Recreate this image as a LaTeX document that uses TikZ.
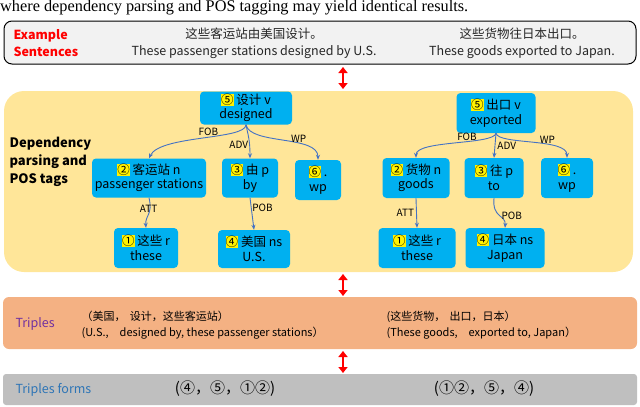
\documentclass[tikz,border=0pt]{standalone}
\usepackage{fontspec}
\setmainfont{Liberation Serif}
\newfontfamily\cjk{Noto Sans CJK SC}
\usetikzlibrary{arrows.meta}
\definecolor{nodeblue}{HTML}{00B0F0}
\definecolor{edgeblue}{HTML}{4472C4}
\definecolor{yellowbg}{HTML}{FFE699}
\definecolor{orangebg}{HTML}{F4B183}
\definecolor{graybg}{HTML}{BFBFBF}
\definecolor{lightbg}{HTML}{F2F2F2}
\definecolor{purp}{HTML}{7030A0}
\definecolor{tfblue}{HTML}{2E75B6}
\newcommand\hlnum[1]{{\setlength\fboxsep{0pt}\colorbox{yellow}{#1}}}
\tikzset{
 wnode/.style={fill=nodeblue, rounded corners=4pt, align=center, font=\cjk\fontsize{12.5}{14.5}\selectfont, inner sep=0pt},
 dep/.style={draw=edgeblue, line width=0.9pt, -{Stealth[length=5pt,width=4pt]}},
 lab/.style={font=\cjk\fontsize{10}{11}\selectfont, inner sep=1pt},
 redarr/.style={draw=red, line width=2.5pt, {Triangle[length=6pt,width=9pt]}-{Triangle[length=6pt,width=9pt]}},
 side/.style={font=\cjk\fontsize{12}{16}\selectfont, align=left, anchor=west},
 txt/.style={font=\cjk\fontsize{11}{16}\selectfont, align=left, anchor=west}
}
\begin{document}
\begin{tikzpicture}[x=1pt,y=-1pt]
\useasboundingbox (0,0) rectangle (640,407);
\node[anchor=west, font=\fontsize{16.3}{17}\selectfont, inner sep=0pt] (cap) at (0,8) {where dependency parsing and POS tagging may yield identical results.};
% example box
\draw[rounded corners=8pt, fill=lightbg, line width=1pt] (4,21) rectangle (636,64);
\node[side, text=red, font=\cjk\bfseries\fontsize{12.5}{17}\selectfont] (ex) at (10,43) {Example\\Sentences};
\node[align=center, font=\cjk\fontsize{12.5}{17}\selectfont, text=black!85] (s1) at (254,43) {这些客运站由美国设计。\\These passenger stations designed by U.S.};
\node[align=center, font=\cjk\fontsize{12.5}{17}\selectfont, text=black!85] (s2) at (522,43) {这些货物往日本出口。\\These goods exported to Japan.};
% yellow box
\fill[yellowbg, rounded corners=20pt] (4,91) rectangle (633,272);
\node[side, font=\cjk\bfseries\fontsize{13}{18}\selectfont] (dp) at (6,162) {Dependency\\parsing and\\POS tags};
% left tree
\node[wnode, minimum width=92pt, minimum height=33pt] (a5) at (246,108) {\hlnum{⑤} 设计 v\\designed};
\node[wnode, minimum width=114pt, minimum height=39pt] (a2) at (149,178) {\hlnum{②} 客运站 n\\passenger stations};
\node[wnode, minimum width=56pt, minimum height=39pt] (a3) at (250,178) {\hlnum{③} 由 p\\by};
\node[wnode, minimum width=46pt, minimum height=40pt] (a6) at (318,180) {\hlnum{⑥} .\\wp};
\node[wnode, minimum width=64pt, minimum height=40pt] (a1) at (146,248) {\hlnum{①} 这些 r\\these};
\node[wnode, minimum width=72pt, minimum height=38pt] (a4) at (254,249) {\hlnum{④} 美国 ns\\U.S.};
\draw[dep] (a5.south) .. controls (246,140) and (160,135) .. node[lab, pos=0.45, above] {FOB} (a2.north);
\draw[dep] (a5.south) .. controls (248,135) and (250,140) .. node[lab, pos=0.7, left=0pt] {ADV} (a3.north);
\draw[dep] (a5.south) .. controls (250,145) and (318,135) .. node[lab, pos=0.65, above] {WP} (a6.north);
\draw[dep] (a2.south) .. controls (153,215) and (145,215) .. node[lab, pos=0.5, above] {ATT} (a1.north);
\draw[dep] (a3.south) -- node[lab, pos=0.45, above right=-1pt] {POB} (a4.north);
% right tree
\node[wnode, minimum width=79pt, minimum height=40pt] (b5) at (496,113) {\hlnum{⑤} 出口 v\\exported};
\node[wnode, minimum width=67pt, minimum height=40pt] (b2) at (416,178) {\hlnum{②} 货物 n\\goods};
\node[wnode, minimum width=59pt, minimum height=40pt] (b3) at (494,178) {\hlnum{③} 往 p\\to};
\node[wnode, minimum width=52pt, minimum height=40pt] (b6) at (567,178) {\hlnum{⑥} .\\wp};
\node[wnode, minimum width=77pt, minimum height=40pt] (b1) at (417,248) {\hlnum{①} 这些 r\\these};
\node[wnode, minimum width=79pt, minimum height=40pt] (b4) at (505,248) {\hlnum{④} 日本 ns\\Japan};
\draw[dep] (b5.south) .. controls (494,145) and (416,140) .. node[lab, pos=0.4, above] {FOB} (b2.north);
\draw[dep] (b5.south) -- node[lab, pos=0.5, right=1pt] {ADV} (b3.north);
\draw[dep] (b5.south) .. controls (498,145) and (567,138) .. node[lab, pos=0.65, above] {WP} (b6.north);
\draw[dep] (b2.south) -- node[lab, pos=0.5, left=1pt] {ATT} (b1.north);
\draw[dep] (b3.south) .. controls (492,218) and (506,215) .. node[lab, pos=0.5, right=1pt] {POB} (b4.north);
% orange box
\fill[orangebg, rounded corners=6pt] (3,297) rectangle (637,349);
\node[side, text=purp, font=\cjk\fontsize{12.5}{14}\selectfont] (tr) at (12,324) {Triples};
\node[txt] (t1) at (78,325) {（美国，\, 设计，这些客运站）\\(U.S.,\quad designed by, these passenger stations）};
\node[txt] (t2) at (383,325) {(这些货物，\, 出口，日本）\\(These goods,\quad exported to, Japan）};
% gray box
\fill[graybg, rounded corners=3pt] (3,374) rectangle (637,405);
\node[side, text=tfblue, font=\cjk\fontsize{12.5}{14}\selectfont] (tf) at (12,390) {Triples forms};
\node[font=\cjk\fontsize{15}{16}\selectfont] (f1) at (225,389) {(④，⑤，①②)};
\node[font=\cjk\fontsize{15}{16}\selectfont] (f2) at (484,389) {(①②，⑤，④)};
% red arrows
\coordinate (r1a) at (343,67); \coordinate (r1b) at (343,89);
\coordinate (r2a) at (343,274); \coordinate (r2b) at (343,296);
\coordinate (r3a) at (343,351); \coordinate (r3b) at (343,373);
\draw[redarr] (r1a) -- (r1b);
\draw[redarr] (r2a) -- (r2b);
\draw[redarr] (r3a) -- (r3b);
\end{tikzpicture}
\end{document}
